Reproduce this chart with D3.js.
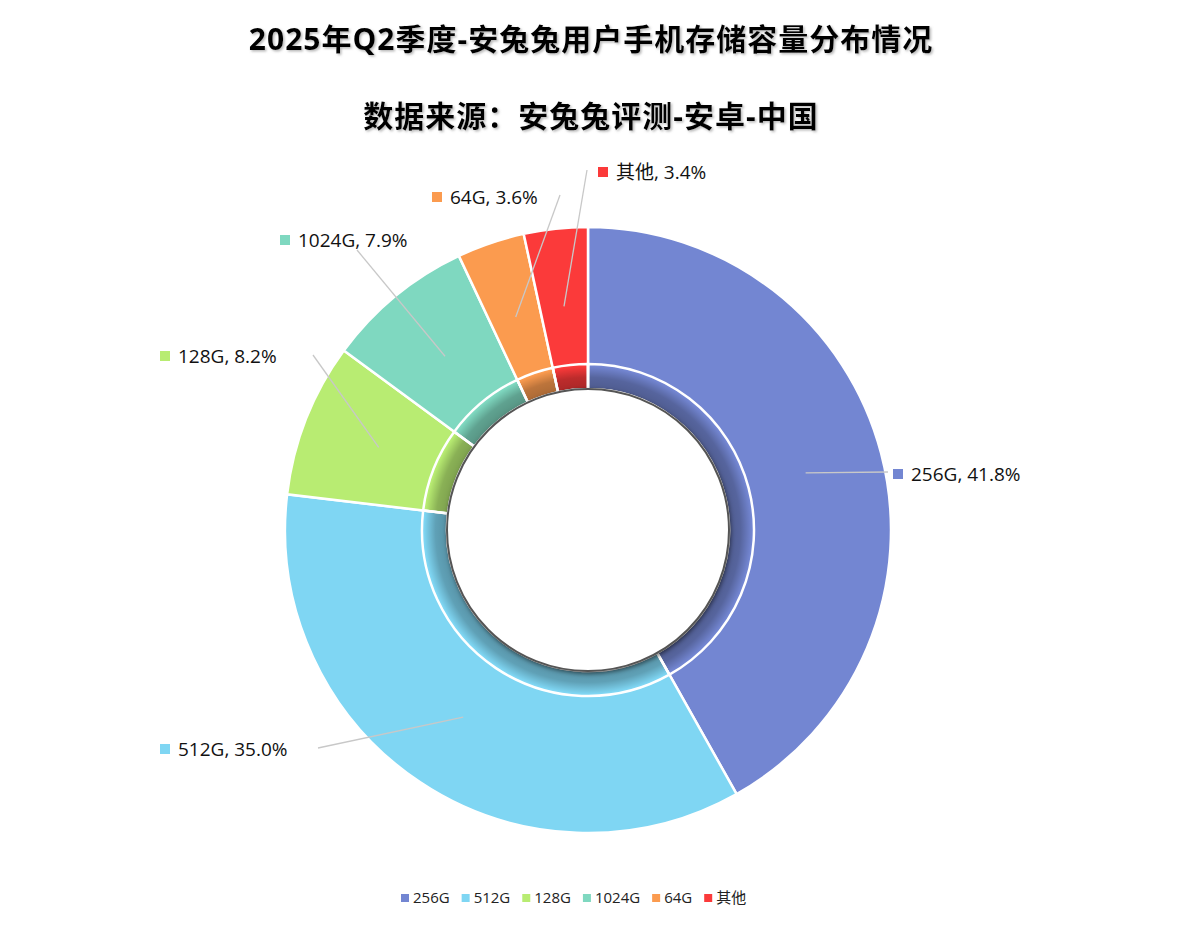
<!DOCTYPE html><html><head><meta charset="utf-8"><script src="https://cdn.jsdelivr.net/npm/d3@7"></script>
<style>body{margin:0;background:#fff}text{font-family:"Open Sans","Noto Sans CJK SC",sans-serif}</style></head><body><svg id="c" width="1182" height="929"></svg>
<script>
const categories=["256G","512G","128G","1024G","64G","其他"];
const values=[41.8,35.0,8.2,7.9,3.6,3.4];
const colors=["#7386d2","#7fd6f3","#b8ec72","#7fd8c0","#fb9b4f","#fb3a3a"];
const labelPos=[[893,475],[160,750],[160,357],[280,241],[432,198],[598,173]];
const elbow=[[888,472],[318,748],[313,355],[357,250],[560,195],[587,170]];
const svg=d3.select("#c");
const defs=svg.append("defs");
const f=defs.append("filter").attr("id","sh").attr("x","-20%").attr("y","-20%").attr("width","140%").attr("height","140%");
f.append("feDropShadow").attr("dx",1).attr("dy",2).attr("stdDeviation",2).attr("flood-opacity",0.5);
const ts=defs.append("filter").attr("id","ts");
ts.append("feDropShadow").attr("dx",1.5).attr("dy",1.5).attr("stdDeviation",1).attr("flood-color","#888").attr("flood-opacity",0.6);
const cx=588,cy=530,R=303,r0=141;
const g=svg.append("g").attr("transform",`translate(${cx},${cy})`);
const pie=d3.pie().sort(null).value(d=>d)(values);
const arc=d3.arc().innerRadius(r0).outerRadius(R);
g.selectAll("path.s").data(pie).join("path").attr("d",arc).attr("fill",(d,i)=>colors[i]).attr("stroke","#fff").attr("stroke-width",2.5);
const rg=defs.append("radialGradient").attr("id","rg").attr("gradientUnits","userSpaceOnUse").attr("cx",0).attr("cy",0).attr("r",164);
rg.append("stop").attr("offset",r0/164).attr("stop-color","#000").attr("stop-opacity",0.32);
rg.append("stop").attr("offset",0.93).attr("stop-color","#000").attr("stop-opacity",0.25);
rg.append("stop").attr("offset",1).attr("stop-color","#000").attr("stop-opacity",0);
g.append("path").attr("d",d3.arc().innerRadius(r0).outerRadius(164).startAngle(0).endAngle(2*Math.PI)()).attr("fill","url(#rg)");
g.selectAll("path.s2").data(pie).join("path").attr("d",d3.arc().innerRadius(r0).outerRadius(166)).attr("fill","none").attr("stroke","#fff").attr("stroke-width",2.5);
g.append("circle").attr("r",r0).attr("fill","#fff").attr("stroke","#555").attr("stroke-width",2).attr("filter","url(#sh)");
const lr=d3.arc().innerRadius(225).outerRadius(225);
pie.forEach((d,i)=>{
  const c=lr.centroid(d);
  svg.append("polyline").attr("points",`${cx+c[0]},${cy+c[1]} ${elbow[i][0]},${elbow[i][1]}`).attr("fill","none").attr("stroke","#c8c8c8").attr("stroke-width",1.3);
  const [lx,ly]=labelPos[i];
  svg.append("rect").attr("x",lx).attr("y",ly-6).attr("width",10).attr("height",10).attr("fill",colors[i]);
  svg.append("text").attr("x",lx+18).attr("y",ly+6).attr("font-size",19).attr("fill","#111").text(`${categories[i]}, ${values[i].toFixed(1)}%`);
});
svg.append("text").attr("x",591).attr("y",50).attr("text-anchor","middle").attr("font-size",30).attr("font-weight","bold").attr("letter-spacing",1).attr("filter","url(#ts)").text("2025年Q2季度-安兔兔用户手机存储容量分布情况");
svg.append("text").attr("x",591).attr("y",127).attr("text-anchor","middle").attr("font-size",30).attr("font-weight","bold").attr("letter-spacing",1).attr("filter","url(#ts)").text("数据来源：安兔兔评测-安卓-中国");
const lg=svg.append("g").attr("transform","translate(401,898)");
let x=0;
categories.forEach((c,i)=>{
  lg.append("rect").attr("x",x).attr("y",-4).attr("width",8).attr("height",8).attr("fill",colors[i]);
  const t=lg.append("text").attr("x",x+12).attr("y",5).attr("font-size",15).attr("fill","#222").text(c);
  x+=12+t.node().getComputedTextLength()+12;
});
</script></body></html>
